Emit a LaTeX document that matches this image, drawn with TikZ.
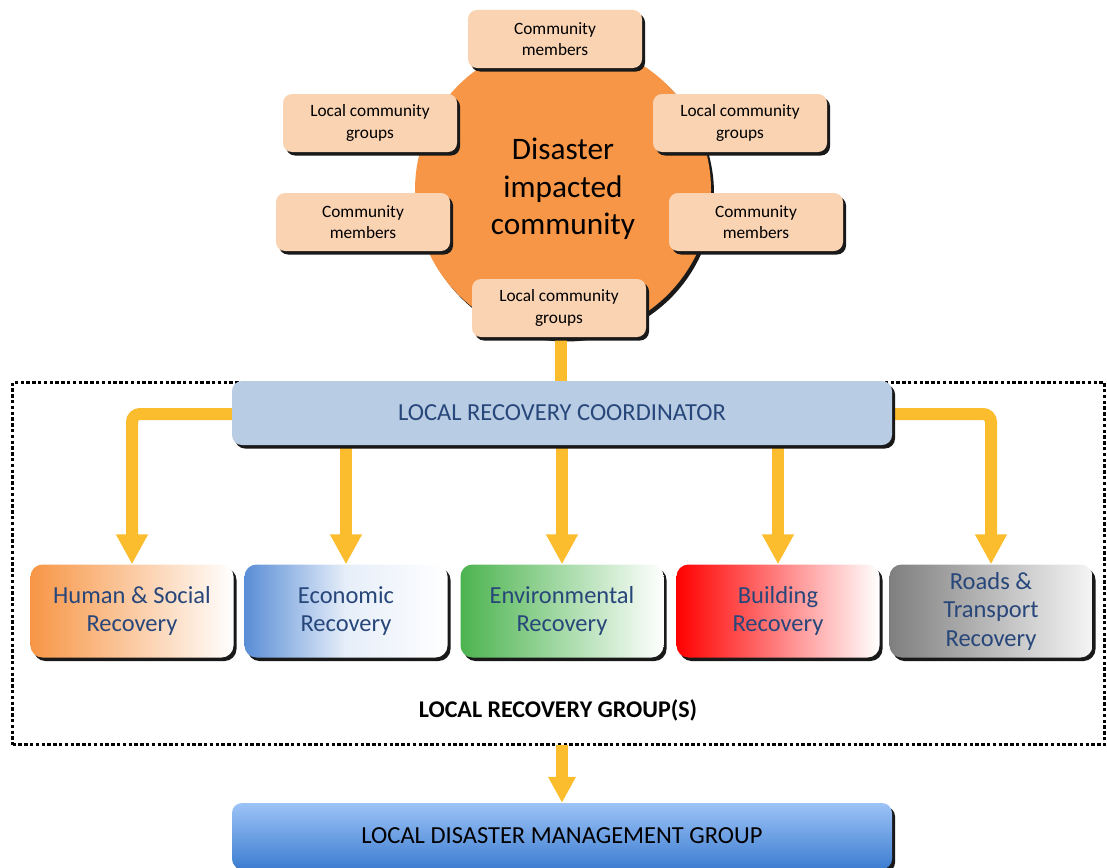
\documentclass[tikz,border=0pt]{standalone}
\usepackage{fontspec}
\setmainfont{Carlito}
\usetikzlibrary{arrows.meta,shadows,positioning}

\definecolor{peach}{HTML}{FAD3B2}
\definecolor{hub}{HTML}{F79646}
\definecolor{coord}{HTML}{B8CCE4}
\definecolor{navytext}{HTML}{27467A}
\definecolor{flow}{RGB}{251,189,46}
\definecolor{hsred}{HTML}{F79646}
\definecolor{ecoblue}{HTML}{5A8ED6}
\definecolor{envgreen}{HTML}{4CB44F}
\definecolor{bldred}{HTML}{FF0000}
\definecolor{rdsgray}{HTML}{7F7F7F}
\definecolor{ldtop}{HTML}{9DC3F7}
\definecolor{ldbot}{HTML}{3C7DD0}

\tikzset{
  hardshadow/.style={drop shadow={shadow xshift=3pt,shadow yshift=-3.5pt,opacity=1,fill=black!90}},
  member/.style={hardshadow,fill=peach,rounded corners=9pt,minimum width=174pt,minimum height=58pt,
    align=center,font=\fontsize{17.3}{21.5}\selectfont,inner sep=0pt},
  recovery/.style={hardshadow,rounded corners=12pt,minimum width=203pt,minimum height=93pt,
    align=center,font=\fontsize{24.5}{28.5}\selectfont,text=navytext,inner sep=0pt,right color=white},
  widebox/.style={hardshadow,rounded corners=10pt,minimum width=660pt,minimum height=64pt,
    inner sep=0pt,font=\fontsize{24.5}{28}\selectfont},
  flowline/.style={draw=flow,line width=12pt},
  flowarrow/.style={flowline,-{Triangle[width=30pt,length=30pt]},rounded corners=8pt},
}

\begin{document}
\begin{tikzpicture}[x=1pt,y=-1pt]
\useasboundingbox (0,0) rectangle (1107,867);

% frame of the recovery group
\node (frame) [draw=black,line width=2.8pt,dash pattern=on 3.4pt off 2.4pt,
  preaction={draw=ecoblue!70,line width=1pt},
  minimum width=1092pt,minimum height=362pt,inner sep=0pt] at (558.5,563.5) {};

% impacted community
\node (dic) [circle,hardshadow,fill=hub,minimum size=296pt,inner sep=0pt] at (563,190) {};
\node (dictext) [align=center,font=\fontsize{31.3}{37.5}\selectfont] at (563,189)
  {Disaster\\impacted\\community};

\node (cm1) [member] at (555,39)  {Community\\members};
\node (lg1) [member] at (370,123) {Local community\\groups};
\node (lg2) [member] at (740,123) {Local community\\groups};
\node (cm2) [member] at (363,222) {Community\\members};
\node (cm3) [member] at (756,222) {Community\\members};

% link down to the coordinator
\coordinate (lrctop) at (561,382);
\draw[flowline] (561,330) -- (lrctop);
\node (lg3) [member] at (559,308) {Local community\\groups};

% coordinator and its sectors
\node (hs)  [recovery,left color=hsred]    at (132,611) {Human \& Social\\Recovery};
\node (eco) [recovery,left color=ecoblue,middle color=ecoblue!15] at (346,611) {Economic\\Recovery};
\node (env) [recovery,left color=envgreen] at (562,611) {Environmental\\Recovery};
\node (bld) [recovery,left color=bldred]   at (778,611) {Building\\Recovery};
\node (rds) [recovery,left color=rdsgray,right color=black!4] at (991,611) {Roads \&\\Transport\\Recovery};

\coordinate (lrcw) at (240,414);
\coordinate (lrce) at (884,414);
\draw[flowarrow] (lrcw) -| (hs.north);
\draw[flowarrow] (lrce) -| (rds.north);
\draw[flowarrow] (346,430) -- (eco.north);
\draw[flowarrow] (562,430) -- (env.north);
\draw[flowarrow] (778,430) -- (bld.north);

\node (lrc) [widebox,fill=coord,text=navytext] at (562,413) {LOCAL RECOVERY COORDINATOR};

\node (grp) [font=\fontsize{24}{26}\selectfont\bfseries] at (558,710) {LOCAL RECOVERY GROUP(S)};

% reporting line
\node (ldmg) [widebox,top color=ldtop,bottom color=ldbot,text=black,minimum height=66pt] at (562,836)
  {LOCAL DISASTER MANAGEMENT GROUP};
\draw[flowline,-{Triangle[width=26pt,length=26pt]}] (frame.south -| ldmg.north) ++(0,-1) -- (ldmg.north);
\end{tikzpicture}
\end{document}
